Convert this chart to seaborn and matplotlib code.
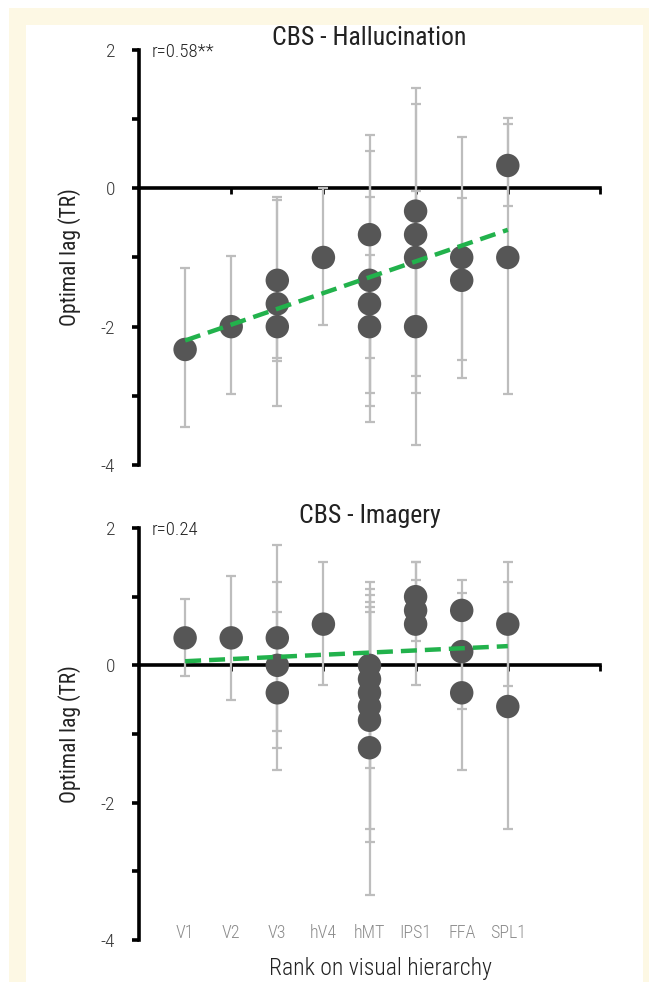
import numpy as np
import matplotlib
matplotlib.use("Agg")
import matplotlib.pyplot as plt
from matplotlib.patches import Rectangle
import seaborn as sns

# --- data ---
categories = ['V1', 'V2', 'V3', 'hV4', 'hMT', 'IPS1', 'FFA', 'SPL1']

# hallucination
hal_rank = [1, 2, 3, 3, 3, 4, 5, 5, 5, 5, 6, 6, 6, 6, 7, 7, 8, 8]
hal_lag = [-2.33, -2.0, -1.33, -1.67, -2.0, -1.0, -0.67, -1.33, -1.67, -2.0,
           -0.33, -0.67, -1.0, -2.0, -1.0, -1.33, 0.33, -1.0]
hal_low = [-3.45, -2.97, -2.5, -3.15, -2.46, -1.97, -2.46, -3.38, -3.15, -2.96,
           -2.71, -2.96, -1.96, -3.71, -2.74, -2.48, -0.25, -2.98]
hal_high = [-1.15, -0.98, -0.13, -0.17, -1.54, 0.0, 0.54, 0.77, -0.13, -0.97,
            1.45, 1.22, -0.04, -0.29, 0.74, -0.14, 0.93, 1.01]
hal_fit = [-2.2, -0.6]

# imagery
img_rank = [1, 2, 3, 3, 3, 4, 5, 5, 5, 5, 5, 5, 6, 6, 6, 7, 7, 7, 8, 8]
img_lag = [0.4, 0.4, 0.4, 0.0, -0.4, 0.6, 0.0, -0.2, -0.4, -0.6, -0.8, -1.2,
           1.0, 0.8, 0.6, 0.8, 0.2, -0.4, 0.6, -0.6]
img_low = [-0.15, -0.5, -0.95, -1.2, -1.52, -0.28, -1.22, -1.49, -2.57, -0.9, -2.38, -3.34,
           0.5, 0.35, -0.28, 0.34, -0.63, -1.52, -0.3, -2.38]
img_high = [0.96, 1.3, 1.75, 1.22, 0.77, 1.5, 1.22, 1.11, 1.02, 0.85, 0.78, 0.92,
            1.5, 1.25, 1.5, 1.25, 1.06, 0.72, 1.5, 1.22]
img_fit = [0.06, 0.28]

fit_rank = [1, 8]

panels = [
    ('CBS - Hallucination', 'r=0.58**', hal_rank, hal_lag, hal_low, hal_high, hal_fit),
    ('CBS - Imagery', 'r=0.24', img_rank, img_lag, img_low, img_high, img_fit),
]

sns.set_style("white")
plt.rcParams['font.family'] = ['DejaVu Sans Condensed', 'Roboto Condensed',
                               'Liberation Sans Narrow', 'Liberation Sans']
plt.rcParams['font.weight'] = 'light'

fig = plt.figure(figsize=(6.49, 9.82), dpi=100)
fig.patch.set_facecolor('white')
fig.patches.append(Rectangle((9 / 649, 0), 1, 1 - 8 / 982, transform=fig.transFigure,
                             facecolor='#fdf8e4', edgecolor='none', zorder=-2))
fig.patches.append(Rectangle((26 / 649, 0), (643 - 26) / 649, 1 - 25 / 982, transform=fig.transFigure,
                             facecolor='white', edgecolor='none', zorder=-1))

rects = [[0.2142, 0.5265, 0.7103, 0.4226], [0.2142, 0.0428, 0.7103, 0.4195]]

for i, (title, rtext, rank, lag, low, high, fit) in enumerate(panels):
    ax = fig.add_axes(rects[i])
    ax.set_zorder(2)
    ax.patch.set_alpha(0)
    lag_a = np.array(lag)
    yerr = [lag_a - np.array(low), np.array(high) - lag_a]
    ax.errorbar(rank, lag, yerr=yerr, fmt='none', ecolor='#bdbdbd', elinewidth=1.6,
                capsize=3.6, capthick=1.6, zorder=3)
    sns.scatterplot(x=rank, y=lag, s=285, color='#565656', edgecolor='none', ax=ax, zorder=4)
    ax.plot(fit_rank, fit, color='#22b24c', lw=3.2, dashes=(3.6, 1.8), zorder=5,
            solid_capstyle='butt')

    ax.set_xlim(0, 10)
    ax.set_ylim(-4, 2)
    for s in ['top', 'right']:
        ax.spines[s].set_visible(False)
    ax.spines['left'].set_linewidth(2.6)
    ax.spines['left'].set_color('black')
    ax.spines['bottom'].set_position(('data', 0))
    ax.spines['bottom'].set_linewidth(2.6)
    ax.spines['bottom'].set_color('black')

    ax.set_yticks([-4, -2, 0, 2])
    ax.set_yticklabels(['-4', '-2', '0', '2'])
    ax.set_yticks([-3, -1, 1], minor=True)
    ax.tick_params(axis='y', which='both', direction='out', length=5, width=2.6,
                   color='black', labelsize=14, labelcolor='#3a3a3a', pad=12, left=True)
    ax.set_xticks([2, 4, 6, 8, 10])
    ax.tick_params(axis='x', direction='out', length=4, width=2, color='black',
                   labelbottom=False, bottom=True)

    ax.set_ylabel('Optimal lag (TR)', fontsize=15.5, color='#222222')
    ax.yaxis.set_label_coords(-0.125, 0.5)
    ax.set_title(title, fontsize=18.5, color='#222222', pad=0)
    ax.text(0.27, 1.97, rtext, fontsize=13.5, color='#222222', ha='left', va='center')

    if i == 1:
        for k, cat in enumerate(categories):
            ax.text(k + 1, -3.9, cat, ha='center', va='center', fontsize=13, color='#8c8c8c')

fig.text(380 / 649, 1 - 968 / 982, 'Rank on visual hierarchy', ha='center', va='center',
         fontsize=17, color='#222222')

fig.savefig('out.png', dpi=100)
